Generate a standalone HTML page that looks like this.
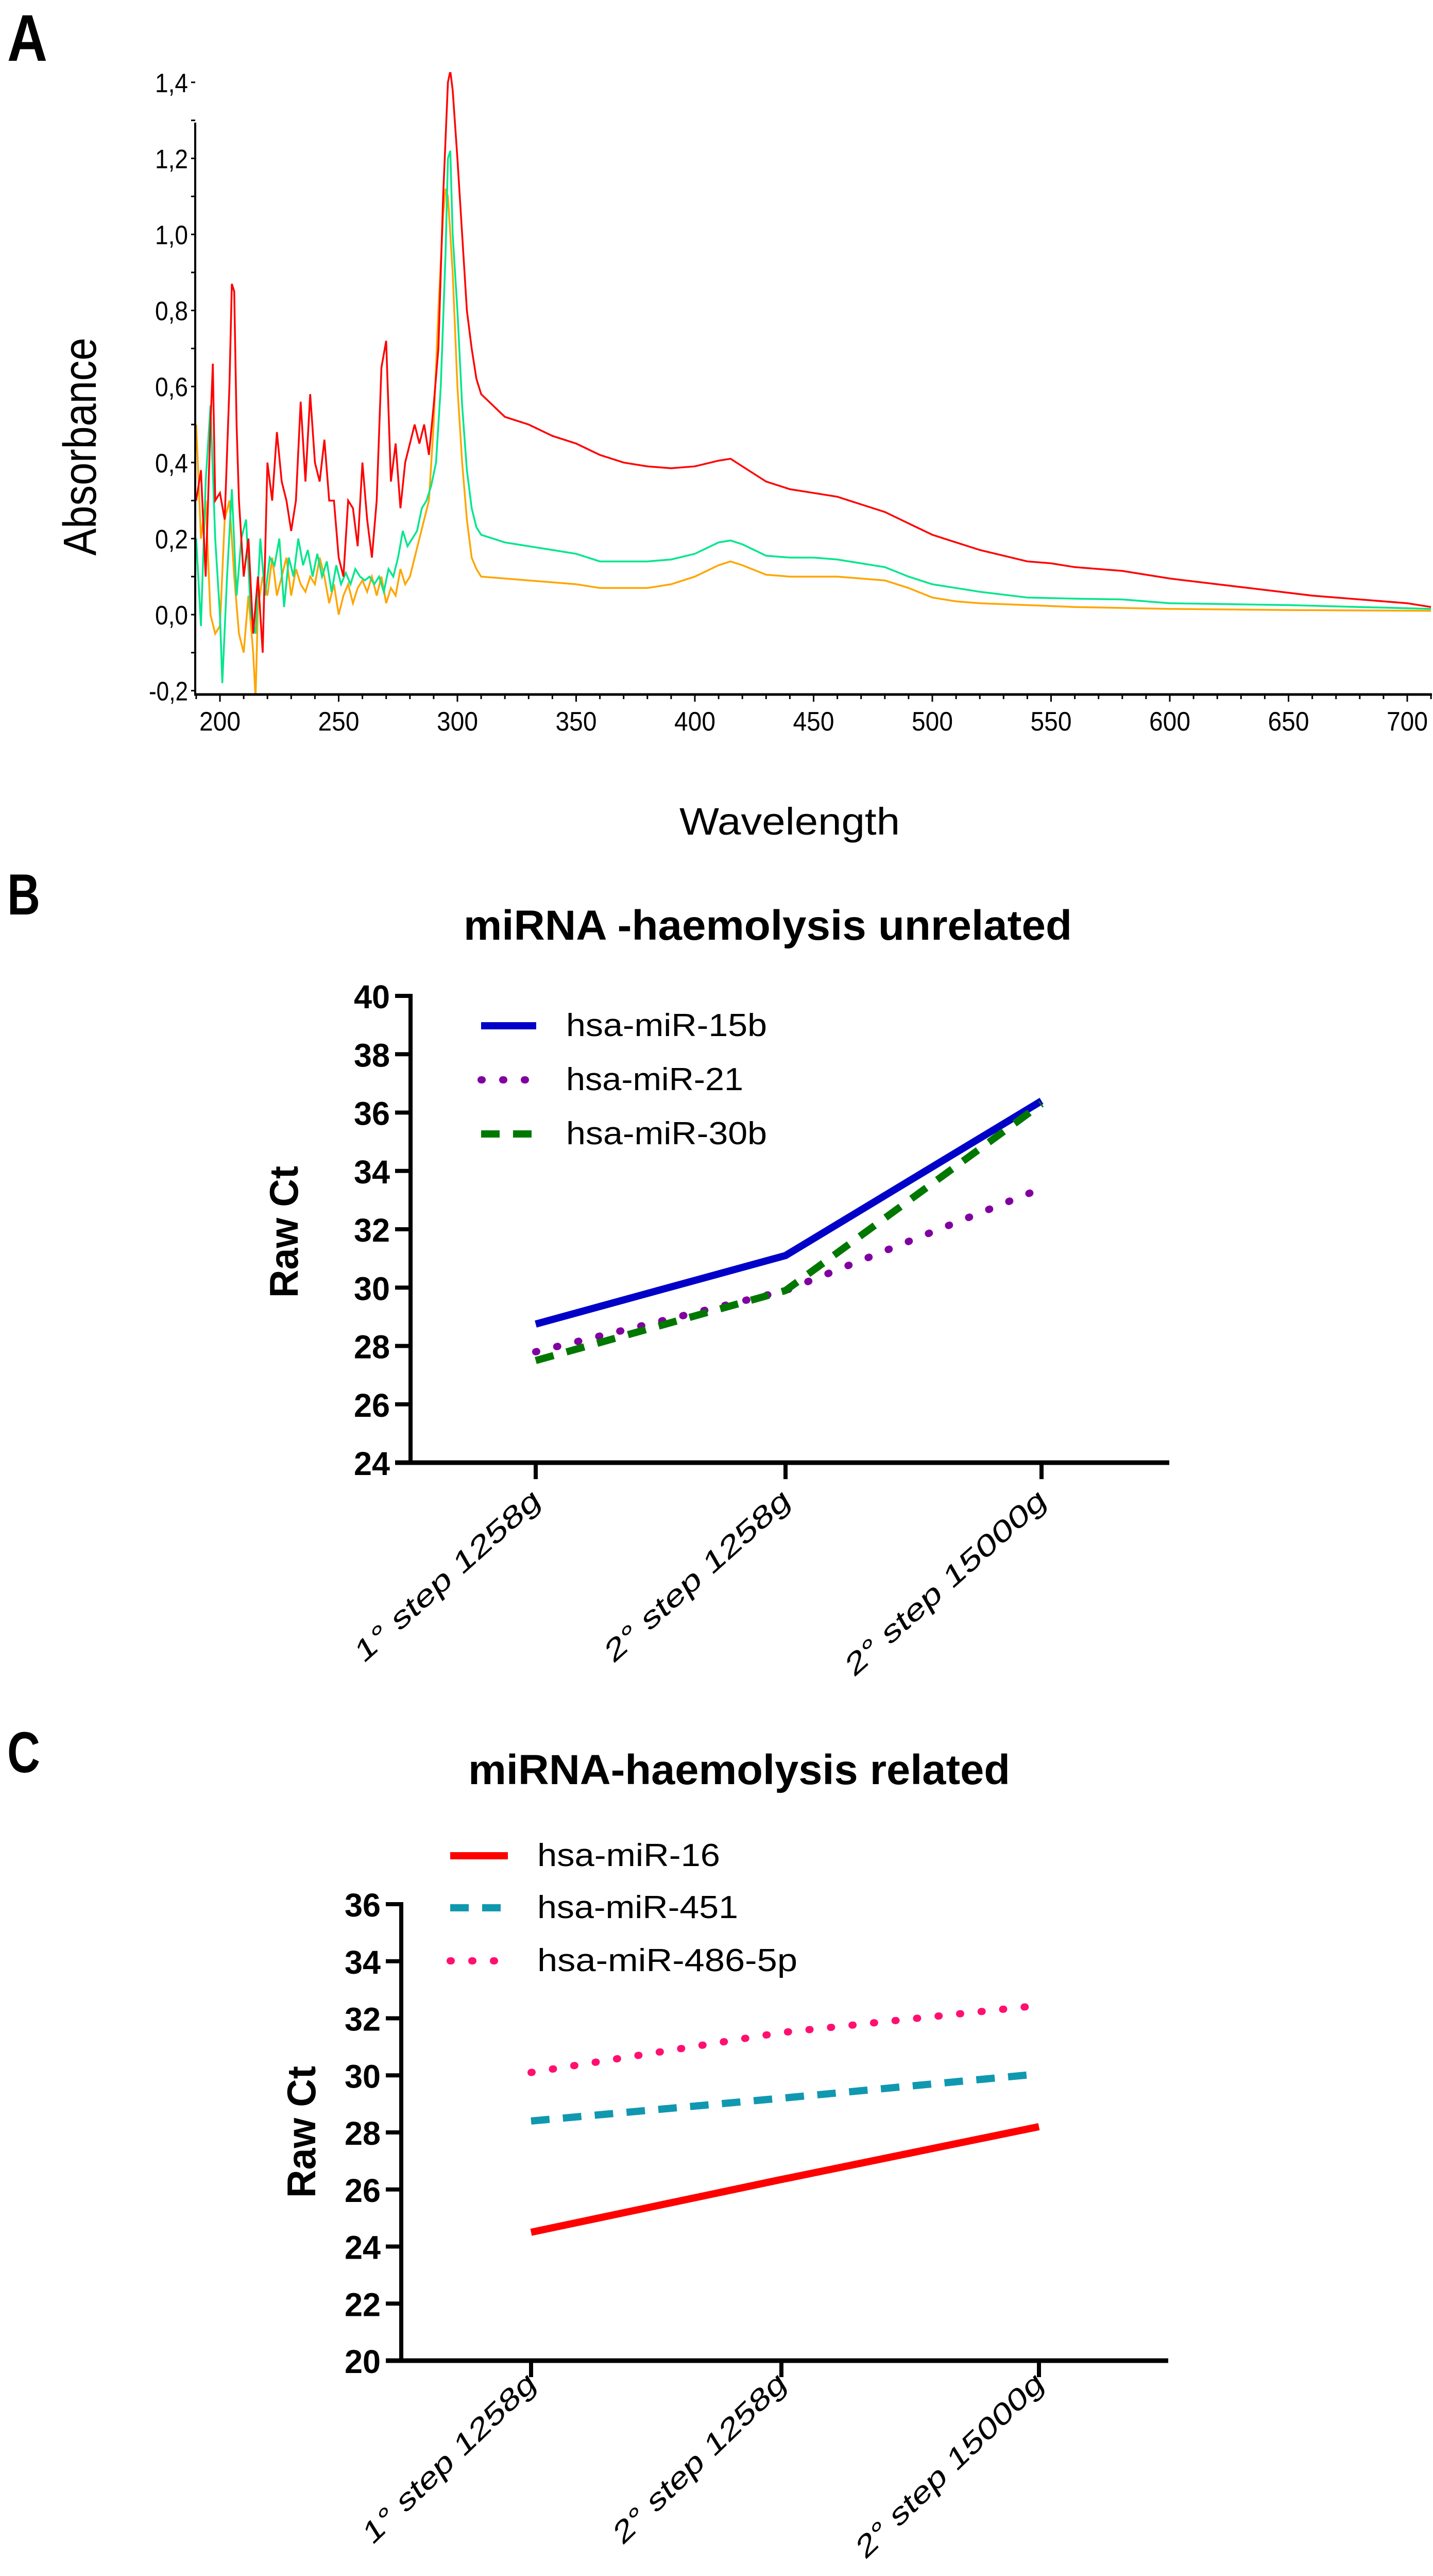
<!DOCTYPE html>
<html><head><meta charset="utf-8"><style>
html,body{margin:0;padding:0;background:#fff;overflow:hidden;width:2782px;height:5035px;}
svg{display:block;}
text{font-family:"Liberation Sans",sans-serif;}
</style></head><body>
<svg id="fig" xmlns="http://www.w3.org/2000/svg" width="2782" height="5035" viewBox="0 0 2782 5035" overflow="hidden">
<rect width="2782" height="5035" fill="#fff"/>
<g id="pa"></g>
<g id="pb"></g>
<g id="pc"></g>
</svg>
<script>
// ---------- Panel A data ----------
const wlRed = [190,192,194,196,197,198,200,202,204,205,206,207,208,210,212,214,216,218,220,222,224,226,228,230,232,234,236,238,240,242,244,246,248,250,252,254,256,258,260,262,264,266,268,270,272,274,276,278,280,282,284,286,288,290,292,294,296,297,298,300,302,304,306,308,310,315,320,330,340,350,360,370,380,390,400,410,415,420,430,440,450,460,470,480,490,500,510,520,530,540,550,560,580,600,620,640,660,680,700,710];
const absRed = [0.3,0.38,0.1,0.5,0.66,0.3,0.32,0.25,0.6,0.87,0.85,0.5,0.3,0.1,0.2,-0.05,0.1,-0.1,0.4,0.3,0.48,0.35,0.3,0.22,0.3,0.56,0.35,0.58,0.4,0.35,0.46,0.3,0.3,0.15,0.1,0.3,0.28,0.18,0.4,0.25,0.15,0.3,0.65,0.72,0.35,0.45,0.28,0.4,0.45,0.5,0.45,0.5,0.42,0.55,0.7,1.1,1.4,1.43,1.38,1.2,1.0,0.8,0.7,0.62,0.58,0.55,0.52,0.5,0.47,0.45,0.42,0.4,0.39,0.385,0.39,0.405,0.41,0.39,0.35,0.33,0.32,0.31,0.29,0.27,0.24,0.21,0.19,0.17,0.155,0.14,0.135,0.125,0.115,0.095,0.08,0.065,0.05,0.04,0.03,0.02];
const wlGreen = [190,192,194,196,198,200,201,203,205,207,209,211,213,215,217,219,221,223,225,227,229,231,233,235,237,239,241,243,245,247,249,251,253,255,257,259,261,263,265,267,269,271,273,275,277,279,281,283,285,287,289,291,293,295,296,297,298,300,302,304,306,308,310,320,330,340,350,360,370,380,390,400,410,415,420,430,440,450,460,470,480,490,500,510,520,540,560,580,600,620,650,680,710];
const absGreen = [0.2,-0.03,0.35,0.55,0.2,0.0,-0.18,0.1,0.33,0.05,0.2,0.25,0.0,-0.05,0.2,0.05,0.15,0.13,0.2,0.02,0.15,0.1,0.2,0.13,0.17,0.1,0.16,0.1,0.14,0.06,0.13,0.08,0.11,0.08,0.12,0.1,0.09,0.1,0.08,0.1,0.06,0.12,0.1,0.15,0.22,0.18,0.2,0.22,0.28,0.3,0.34,0.4,0.6,0.95,1.2,1.22,1.0,0.8,0.55,0.38,0.28,0.23,0.21,0.19,0.18,0.17,0.16,0.14,0.14,0.14,0.145,0.16,0.19,0.195,0.185,0.155,0.15,0.15,0.145,0.135,0.125,0.1,0.08,0.07,0.06,0.045,0.042,0.04,0.03,0.028,0.025,0.02,0.015];
const wlOrange = [190,192,194,196,198,200,202,204,206,208,210,212,214,215,216,218,220,222,224,226,228,230,232,234,236,238,240,242,244,246,248,250,252,254,256,258,260,262,264,266,268,270,272,274,276,278,280,282,284,286,288,290,292,294,295,296,298,300,302,304,306,308,310,320,330,340,350,360,370,380,390,400,410,415,420,430,440,450,460,470,480,490,500,510,520,540,560,600,650,710];
const absOrange = [0.5,0.2,0.3,0.0,-0.05,-0.03,0.25,0.3,0.1,-0.05,-0.1,0.05,-0.1,-0.22,0.02,0.1,0.05,0.15,0.05,0.1,0.15,0.05,0.12,0.08,0.06,0.1,0.08,0.15,0.1,0.03,0.08,0.0,0.05,0.08,0.03,0.07,0.09,0.06,0.1,0.05,0.1,0.03,0.07,0.05,0.12,0.08,0.1,0.15,0.2,0.25,0.3,0.5,0.8,1.05,1.12,1.1,0.9,0.6,0.4,0.25,0.15,0.12,0.1,0.095,0.09,0.085,0.08,0.07,0.07,0.07,0.08,0.1,0.13,0.14,0.13,0.105,0.1,0.1,0.1,0.095,0.09,0.07,0.045,0.035,0.03,0.025,0.02,0.015,0.012,0.01];
const aXTicks = [200,250,300,350,400,450,500,550,600,650,700];
const aYTicks = [-0.2,0.0,0.2,0.4,0.6,0.8,1.0,1.2,1.4];

// ---------- Panel B data ----------
const bCats = ["1° step 1258g","2° step 1258g","2° step 15000g"];
const bMiR15b = [28.75,31.1,36.4];
const bMiR21 = [27.8,29.9,33.4];
const bMiR30b = [27.5,29.9,36.3];
const bYTicks = [24,26,28,30,32,34,36,38,40];

// ---------- Panel C data ----------
const cCats = ["1° step 1258g","2° step 1258g","2° step 15000g"];
const cMiR16 = [24.5,26.35,28.2];
const cMiR451 = [28.4,29.2,30.05];
const cMiR486 = [30.1,31.5,32.45];
const cYTicks = [20,22,24,26,28,30,32,34,36];

const NS="http://www.w3.org/2000/svg";
function mk(parent,tag,attrs,txt){const e=document.createElementNS(NS,tag);for(const k in attrs)e.setAttribute(k,attrs[k]);if(txt!==undefined)e.textContent=txt;parent.appendChild(e);return e;}

// ================= Panel A =================
(function(){
const g=document.getElementById('pa');
const xA=w=>427+(w-200)*230.5/50;
const yA=v=>1193-v*738;
const L=379,R=2780,B=1348,T=238;
let t=mk(g,'text',{x:14,y:118,'font-size':128,'font-weight':'bold',textLength:78,lengthAdjust:'spacingAndGlyphs'},'A');

const defs=mk(g,'defs',{});const cp=mk(defs,'clipPath',{id:'clipA'});mk(cp,'rect',{x:L,y:140,width:R-L,height:B-140});
const series=[[wlOrange,absOrange,'#ffa500','orange-spectrum'],[wlGreen,absGreen,'#00e68c','green-spectrum'],[wlRed,absRed,'#ff0000','red-spectrum']];
series.forEach(s=>{
  let d='';s[0].forEach((w,i)=>{d+=(i?'L':'M')+xA(w).toFixed(1)+','+yA(s[1][i]).toFixed(1);});
  const p=mk(g,'path',{d:d,fill:'none',stroke:s[2],'stroke-width':3.5,'clip-path':'url(#clipA)'});
  
});
let ax=mk(g,'line',{x1:L,y1:T,x2:L,y2:B,stroke:'#000','stroke-width':4});

ax=mk(g,'line',{x1:L-2,y1:B,x2:R,y2:B,stroke:'#000','stroke-width':5});

for(let v=-0.2;v<=1.41;v+=0.1){const y=yA(v);mk(g,'line',{x1:L-8,y1:y,x2:L,y2:y,stroke:'#000','stroke-width':3});}
aYTicks.forEach(v=>{
  const lab=mk(g,'text',{x:L-14,y:yA(v)+19,'font-size':52,'text-anchor':'end',textLength:(v<0?76:64),lengthAdjust:'spacingAndGlyphs'},(v<0?'-':'')+Math.abs(v).toFixed(1).replace('.',','));
  
});
for(let w=190;w<=710;w+=10){const x=xA(w);if(x<L||x>R)continue;mk(g,'line',{x1:x,y1:B,x2:x,y2:B+(w%50===0?14:9),stroke:'#000','stroke-width':3});}
aXTicks.forEach(w=>{
  const lab=mk(g,'text',{x:Math.min(xA(w),2740),y:B+70,'font-size':52,'text-anchor':'middle',textLength:80,lengthAdjust:'spacingAndGlyphs'},String(w));
  
});
t=mk(g,'text',{x:0,y:0,'font-size':90,'text-anchor':'middle',transform:'translate(186,867) rotate(-90)',textLength:423,lengthAdjust:'spacingAndGlyphs'},'Absorbance');

t=mk(g,'text',{x:1533,y:1620,'font-size':74,'text-anchor':'middle',textLength:428,lengthAdjust:'spacingAndGlyphs'},'Wavelength');

})();

// ================= Panels B & C =================
function linePanel(gid,cfg){
  const g=document.getElementById(gid);
  const yS=v=>cfg.y0-(v-cfg.ymin)*cfg.perUnit;
  let t=mk(g,'text',{x:14,y:cfg.letterY,'font-size':112,'font-weight':'bold',textLength:64,lengthAdjust:'spacingAndGlyphs'},cfg.letter);
  
  t=mk(g,'text',{x:cfg.titleX,y:cfg.titleY,'font-size':82,'font-weight':'bold',textLength:cfg.titleW,lengthAdjust:'spacingAndGlyphs'},cfg.title);
  
  let a=mk(g,'line',{x1:cfg.ax,y1:yS(cfg.yticks[cfg.yticks.length-1])-4,x2:cfg.ax,y2:cfg.y0+4,stroke:'#000','stroke-width':8});
  
  a=mk(g,'line',{x1:cfg.ax-30,y1:cfg.y0,x2:cfg.xEnd,y2:cfg.y0,stroke:'#000','stroke-width':9});
  
  cfg.yticks.forEach(v=>{
    mk(g,'line',{x1:cfg.ax-30,y1:yS(v),x2:cfg.ax,y2:yS(v),stroke:'#000','stroke-width':8});
    const l=mk(g,'text',{x:cfg.ax-40,y:yS(v)+24,'font-size':64,'font-weight':'bold','text-anchor':'end',textLength:70,lengthAdjust:'spacingAndGlyphs'},String(v));
    
  });
  cfg.cats.forEach((c,i)=>{
    const x=cfg.catX[i];
    mk(g,'line',{x1:x,y1:cfg.y0,x2:x,y2:cfg.y0+32,stroke:'#000','stroke-width':8});
    const l=mk(g,'text',{x:0,y:0,'font-size':56,'text-anchor':'end',transform:`translate(${x+12},${cfg.y0+cfg.labDy}) rotate(${-cfg.labAng}) skewX(-12)`,textLength:cfg.labLen[i],lengthAdjust:'spacingAndGlyphs'},c);
    
  });
  t=mk(g,'text',{x:0,y:0,'font-size':78,'font-weight':'bold','text-anchor':'middle',transform:`translate(${cfg.ytX},${cfg.ytY}) rotate(-90)`,textLength:256,lengthAdjust:'spacingAndGlyphs'},'Raw Ct');
  
  cfg.series.forEach((s,k)=>{
    let d='';s.vals.forEach((v,i)=>{d+=(i?'L':'M')+cfg.catX[i]+','+yS(v).toFixed(1);});
    const p=mk(g,'path',{d:d,fill:'none',stroke:s.color,'stroke-width':14,'stroke-dasharray':s.dash,'stroke-linecap':s.cap,'stroke-linejoin':'round'});
    
    const ly=cfg.legY[k];
    const ll=mk(g,'line',{x1:cfg.legX1,y1:ly,x2:cfg.legX2,y2:ly,stroke:s.color,'stroke-width':14,'stroke-dasharray':s.dash,'stroke-linecap':s.cap});
    
    const lt=mk(g,'text',{x:cfg.legTX,y:ly+20,'font-size':62,textLength:s.tw,lengthAdjust:'spacingAndGlyphs'},s.label);
    
  });
}
linePanel('pb',{letter:'B',letterY:1775,title:'miRNA -haemolysis unrelated',titleX:900,titleY:1824,titleW:1181,
  ax:797,y0:2839,ymin:24,perUnit:(2839-1933)/16,xEnd:2270,yticks:bYTicks,cats:bCats,catX:[1040,1525,2022],
  labDy:80,labAng:41.9,labLen:[466,466,506],
  ytX:578,ytY:2391,legX1:934,legX2:1041,legTX:1099,legY:[1991,2096,2201],
  series:[
   {vals:bMiR15b,color:'#0000c8',dash:'none',cap:'butt',name:'hsa-mir-15b',label:'hsa-miR-15b',tw:390},
   {vals:bMiR21,color:'#8000a0',dash:'2 40',cap:'round',name:'hsa-mir-21',label:'hsa-miR-21',tw:344},
   {vals:bMiR30b,color:'#007800',dash:'36 26',cap:'butt',name:'hsa-mir-30b',label:'hsa-miR-30b',tw:390}]});
linePanel('pc',{letter:'C',letterY:3440,title:'miRNA-haemolysis related',titleX:909,titleY:3463,titleW:1052,
  ax:779,y0:4582,ymin:20,perUnit:(4582-3696)/16,xEnd:2268,yticks:cYTicks,cats:cCats,catX:[1031,1517,2017],
  labDy:50,labAng:44,labLen:[446,446,486],
  ytX:612,ytY:4138,legX1:874,legX2:986,legTX:1043,legY:[3602,3703,3806],
  series:[
   {vals:cMiR16,color:'#ff0000',dash:'none',cap:'butt',name:'hsa-mir-16',label:'hsa-miR-16',tw:355},
   {vals:cMiR451,color:'#1098b0',dash:'36 26',cap:'butt',name:'hsa-mir-451',label:'hsa-miR-451',tw:390},
   {vals:cMiR486,color:'#ff1070',dash:'2 40',cap:'round',name:'hsa-mir-486-5p',label:'hsa-miR-486-5p',tw:505}]});
</script>
</body></html>
